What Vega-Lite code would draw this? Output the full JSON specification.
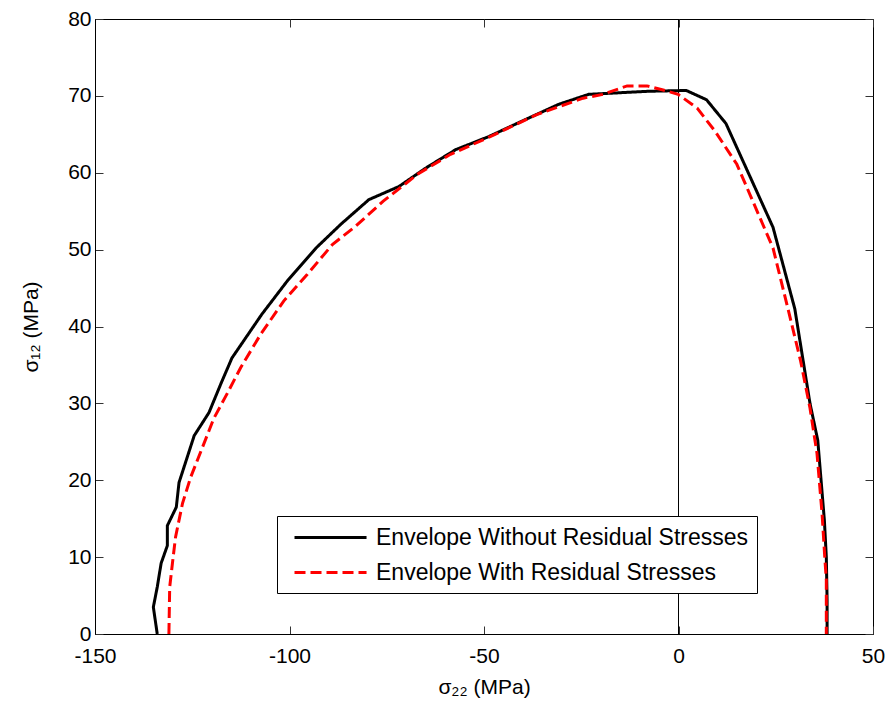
{
  "$schema": "https://vega.github.io/schema/vega-lite/v6.json",
  "autosize": "none",
  "padding": {"left": 95, "top": 19, "right": 17, "bottom": 73},
  "width": 778,
  "height": 615,
  "background": "white",
  "config": {
    "font": "Liberation Sans",
    "view": {"stroke": "black", "strokeWidth": 1},
    "axis": {
      "labelFont": "Liberation Sans",
      "titleFont": "Liberation Sans",
      "labelFontSize": 21,
      "titleFontSize": 21,
      "titleFontWeight": "normal",
      "labelColor": "black",
      "titleColor": "black",
      "domainColor": "black",
      "tickColor": "#333333",
      "tickSize": -8,
      "grid": false,
      "labelExpr": "'' + datum.value"
    }
  },
  "data": {
    "values": [
      {"s": "Envelope Without Residual Stresses", "i": 1, "x": -134.0, "y": 0},
      {"s": "Envelope Without Residual Stresses", "i": 2, "x": -135.0, "y": 3.5},
      {"s": "Envelope Without Residual Stresses", "i": 3, "x": -134.0, "y": 6.1},
      {"s": "Envelope Without Residual Stresses", "i": 4, "x": -133.0, "y": 9.2},
      {"s": "Envelope Without Residual Stresses", "i": 5, "x": -131.4, "y": 11.5},
      {"s": "Envelope Without Residual Stresses", "i": 6, "x": -131.4, "y": 14.1},
      {"s": "Envelope Without Residual Stresses", "i": 7, "x": -129.1, "y": 16.5},
      {"s": "Envelope Without Residual Stresses", "i": 8, "x": -128.4, "y": 19.7},
      {"s": "Envelope Without Residual Stresses", "i": 9, "x": -124.5, "y": 25.8},
      {"s": "Envelope Without Residual Stresses", "i": 10, "x": -120.7, "y": 28.8},
      {"s": "Envelope Without Residual Stresses", "i": 11, "x": -117.6, "y": 32.6},
      {"s": "Envelope Without Residual Stresses", "i": 12, "x": -114.8, "y": 35.9},
      {"s": "Envelope Without Residual Stresses", "i": 13, "x": -107.1, "y": 41.6},
      {"s": "Envelope Without Residual Stresses", "i": 14, "x": -100.6, "y": 45.9},
      {"s": "Envelope Without Residual Stresses", "i": 15, "x": -93.2, "y": 50.2},
      {"s": "Envelope Without Residual Stresses", "i": 16, "x": -86.8, "y": 53.3},
      {"s": "Envelope Without Residual Stresses", "i": 17, "x": -79.6, "y": 56.5},
      {"s": "Envelope Without Residual Stresses", "i": 18, "x": -71.9, "y": 58.2},
      {"s": "Envelope Without Residual Stresses", "i": 19, "x": -65.0, "y": 60.6},
      {"s": "Envelope Without Residual Stresses", "i": 20, "x": -57.3, "y": 63.0},
      {"s": "Envelope Without Residual Stresses", "i": 21, "x": -48.8, "y": 64.7},
      {"s": "Envelope Without Residual Stresses", "i": 22, "x": -40.3, "y": 66.7},
      {"s": "Envelope Without Residual Stresses", "i": 23, "x": -30.8, "y": 68.9},
      {"s": "Envelope Without Residual Stresses", "i": 24, "x": -23.1, "y": 70.2},
      {"s": "Envelope Without Residual Stresses", "i": 25, "x": -7.7, "y": 70.6},
      {"s": "Envelope Without Residual Stresses", "i": 26, "x": 2.0, "y": 70.7},
      {"s": "Envelope Without Residual Stresses", "i": 27, "x": 7.2, "y": 69.5},
      {"s": "Envelope Without Residual Stresses", "i": 28, "x": 12.2, "y": 66.4},
      {"s": "Envelope Without Residual Stresses", "i": 29, "x": 24.3, "y": 52.9},
      {"s": "Envelope Without Residual Stresses", "i": 30, "x": 29.9, "y": 42.3},
      {"s": "Envelope Without Residual Stresses", "i": 31, "x": 33.8, "y": 30.0},
      {"s": "Envelope Without Residual Stresses", "i": 32, "x": 35.8, "y": 25.2},
      {"s": "Envelope Without Residual Stresses", "i": 33, "x": 37.5, "y": 14.8},
      {"s": "Envelope Without Residual Stresses", "i": 34, "x": 38.0, "y": 10.0},
      {"s": "Envelope Without Residual Stresses", "i": 35, "x": 38.2, "y": 4.4},
      {"s": "Envelope Without Residual Stresses", "i": 36, "x": 38.2, "y": 0},
      {"s": "Envelope With Residual Stresses", "i": 1, "x": -131.0, "y": 0},
      {"s": "Envelope With Residual Stresses", "i": 2, "x": -130.8, "y": 6.1},
      {"s": "Envelope With Residual Stresses", "i": 3, "x": -130.0, "y": 9.6},
      {"s": "Envelope With Residual Stresses", "i": 4, "x": -129.3, "y": 12.6},
      {"s": "Envelope With Residual Stresses", "i": 5, "x": -127.5, "y": 17.0},
      {"s": "Envelope With Residual Stresses", "i": 6, "x": -125.4, "y": 20.4},
      {"s": "Envelope With Residual Stresses", "i": 7, "x": -122.2, "y": 24.5},
      {"s": "Envelope With Residual Stresses", "i": 8, "x": -119.5, "y": 28.0},
      {"s": "Envelope With Residual Stresses", "i": 9, "x": -116.1, "y": 31.2},
      {"s": "Envelope With Residual Stresses", "i": 10, "x": -112.6, "y": 34.6},
      {"s": "Envelope With Residual Stresses", "i": 11, "x": -107.4, "y": 39.0},
      {"s": "Envelope With Residual Stresses", "i": 12, "x": -101.5, "y": 43.3},
      {"s": "Envelope With Residual Stresses", "i": 13, "x": -95.4, "y": 46.8},
      {"s": "Envelope With Residual Stresses", "i": 14, "x": -88.9, "y": 50.7},
      {"s": "Envelope With Residual Stresses", "i": 15, "x": -83.1, "y": 53.0},
      {"s": "Envelope With Residual Stresses", "i": 16, "x": -75.9, "y": 56.3},
      {"s": "Envelope With Residual Stresses", "i": 17, "x": -67.1, "y": 59.8},
      {"s": "Envelope With Residual Stresses", "i": 18, "x": -58.6, "y": 62.4},
      {"s": "Envelope With Residual Stresses", "i": 19, "x": -48.4, "y": 64.7},
      {"s": "Envelope With Residual Stresses", "i": 20, "x": -36.3, "y": 67.6},
      {"s": "Envelope With Residual Stresses", "i": 21, "x": -24.5, "y": 69.7},
      {"s": "Envelope With Residual Stresses", "i": 22, "x": -19.4, "y": 70.2},
      {"s": "Envelope With Residual Stresses", "i": 23, "x": -13.2, "y": 71.3},
      {"s": "Envelope With Residual Stresses", "i": 24, "x": -8.1, "y": 71.3},
      {"s": "Envelope With Residual Stresses", "i": 25, "x": -4.2, "y": 70.8},
      {"s": "Envelope With Residual Stresses", "i": 26, "x": -0.1, "y": 70.2},
      {"s": "Envelope With Residual Stresses", "i": 27, "x": 4.8, "y": 68.4},
      {"s": "Envelope With Residual Stresses", "i": 28, "x": 9.4, "y": 65.4},
      {"s": "Envelope With Residual Stresses", "i": 29, "x": 15.0, "y": 61.1},
      {"s": "Envelope With Residual Stresses", "i": 30, "x": 19.1, "y": 56.3},
      {"s": "Envelope With Residual Stresses", "i": 31, "x": 24.3, "y": 50.2},
      {"s": "Envelope With Residual Stresses", "i": 32, "x": 28.1, "y": 42.4},
      {"s": "Envelope With Residual Stresses", "i": 33, "x": 31.4, "y": 35.5},
      {"s": "Envelope With Residual Stresses", "i": 34, "x": 33.8, "y": 29.4},
      {"s": "Envelope With Residual Stresses", "i": 35, "x": 35.6, "y": 23.5},
      {"s": "Envelope With Residual Stresses", "i": 36, "x": 36.9, "y": 15.7},
      {"s": "Envelope With Residual Stresses", "i": 37, "x": 37.6, "y": 10.0},
      {"s": "Envelope With Residual Stresses", "i": 38, "x": 38.0, "y": 7.0},
      {"s": "Envelope With Residual Stresses", "i": 39, "x": 38.0, "y": 0}
    ]
  },
  "layer": [
    {
      "mark": {"type": "rule", "color": "black", "strokeWidth": 1},
      "encoding": {
        "x": {
          "datum": 0, "type": "quantitative",
          "scale": {"domain": [-150, 50], "nice": false, "zero": false},
          "axis": {"orient": "top", "labels": false, "title": null, "values": [-150, -100, -50, 0, 50], "domain": false}
        },
        "y": {
          "datum": 0, "type": "quantitative",
          "scale": {"domain": [0, 80], "nice": false, "zero": false},
          "axis": {"orient": "right", "labels": false, "title": null, "values": [0, 10, 20, 30, 40, 50, 60, 70, 80], "domain": false}
        },
        "y2": {"datum": 80}
      }
    },
    {
      "mark": {"type": "line", "strokeWidth": 3, "clip": true},
      "encoding": {
        "x": {
          "field": "x", "type": "quantitative",
          "axis": {"orient": "bottom", "title": "σ₂₂ (MPa)", "values": [-150, -100, -50, 0, 50], "labelPadding": 19, "titlePadding": 10, "labelFlush": false}
        },
        "y": {
          "field": "y", "type": "quantitative",
          "axis": {"orient": "left", "title": "σ₁₂ (MPa)", "values": [0, 10, 20, 30, 40, 50, 60, 70, 80], "labelPadding": 12, "titlePadding": 26}
        },
        "order": {"field": "i", "type": "quantitative"},
        "color": {
          "field": "s", "type": "nominal",
          "scale": {"domain": ["Envelope Without Residual Stresses", "Envelope With Residual Stresses"], "range": ["black", "red"]},
          "legend": {
            "title": null,
            "orient": "none",
            "legendX": 182,
            "legendY": 497,
            "fillColor": "white",
            "strokeColor": "black",
            "padding": 8,
            "labelFontSize": 23,
            "labelFont": "Liberation Sans",
            "labelColor": "black",
            "symbolType": "M-0.333,0H5.67",
            "symbolSize": 576,
            "symbolStrokeWidth": 3,
            "labelOffset": 64,
            "rowPadding": 9,
            "labelLimit": 600
          }
        },
        "strokeDash": {
          "field": "s", "type": "nominal",
          "scale": {"domain": ["Envelope Without Residual Stresses", "Envelope With Residual Stresses"], "range": [[1, 0], [11, 5]]},
          "legend": null
        }
      }
    }
  ],
  "resolve": {"axis": {"x": "independent", "y": "independent"}}
}
